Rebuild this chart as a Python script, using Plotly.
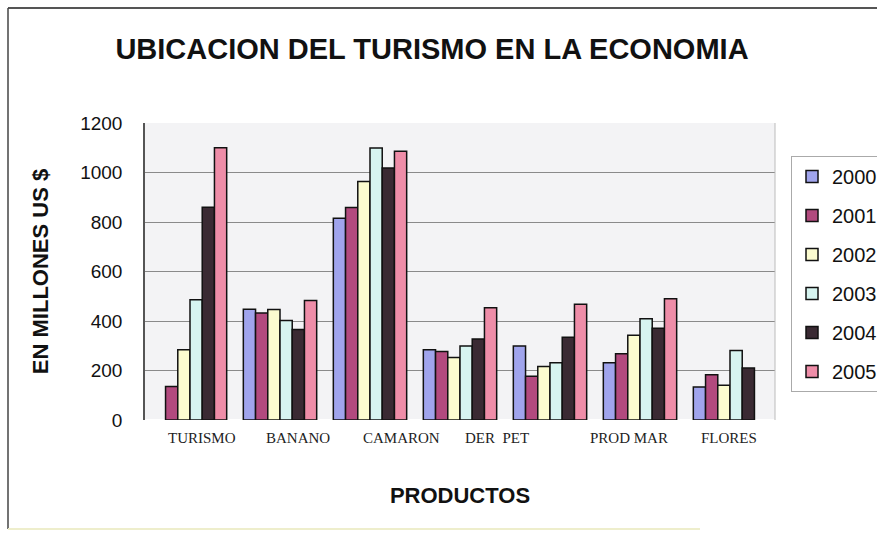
import plotly.graph_objects as go

categories = ["TURISMO", "BANANO", "CAMARON", "DER PET", "OTROS", "PROD MAR", "FLORES"]
tick_labels = ["TURISMO", "BANANO", "CAMARON", "DER  PET", "", "PROD MAR", "FLORES"]
label_shift = [12, 18, 31, 37, 0, -11, -1]
years = ["2000", "2001", "2002", "2003", "2004", "2005"]

v2000 = [None, 447, 815, 284, 299, 231, 133]
v2001 = [135, 432, 859, 277, 177, 268, 183]
v2002 = [284, 446, 964, 253, 216, 342, 140]
v2003 = [486, 402, 1099, 299, 231, 409, 281]
v2004 = [860, 366, 1018, 327, 334, 371, 210]
v2005 = [1100, 483, 1086, 454, 468, 490, None]
series = [v2000, v2001, v2002, v2003, v2004, v2005]

colors = ["#A0A4EC", "#B24A7E", "#FBFBCF", "#D6F4F0", "#3A2A33", "#EE8DA8"]

W, H = 877, 535
L, R, T, B = 145, 102, 123, 115
pw, ph = W - L - R, H - T - B

def px(x):
    return (x - L) / pw

def py(y):
    return (H - B - y) / ph

fig = go.Figure()
for name, vals, col in zip(years, series, colors):
    fig.add_trace(go.Bar(
        x=categories, y=vals, name=name, legendgroup=name,
        marker=dict(color=col, line=dict(color="#111111", width=1.5)),
    ))

fig.update_layout(
    width=W, height=H,
    margin=dict(l=L, r=R, t=T, b=B, autoexpand=False),
    paper_bgcolor="white",
    plot_bgcolor="#F3F3F5",
    barmode="group", bargap=0.185, bargroupgap=0,
    font=dict(family="Liberation Sans, Arial", color="#111111"),
    title=dict(text="<b>UBICACION DEL TURISMO EN LA ECONOMIA</b>",
               x=432 / W, xanchor="center", y=1 - 49 / H, yanchor="middle",
               font=dict(size=29, color="#111111")),
    legend=dict(x=px(791), y=py(156), xanchor="left", yanchor="top",
                bordercolor="#AAAAAA", borderwidth=1, bgcolor="white",
                font=dict(size=20, color="#111111"), itemwidth=30,
                tracegroupgap=10, traceorder="grouped"),
    showlegend=True,
)

for cat, lab, sh in zip(categories, tick_labels, label_shift):
    if lab:
        fig.add_annotation(x=cat, y=0, xref="x", yref="paper", text=lab,
                           showarrow=False, xshift=sh, yshift=-18, yanchor="middle",
                           font=dict(family="Liberation Serif, Times New Roman", size=15,
                                     color="#222222"))

fig.update_xaxes(
    showticklabels=False,
    showline=False, ticks="", showgrid=False,
    title=dict(text="<b>PRODUCTOS</b>", font=dict(size=22, color="#111111"), standoff=67),
)
fig.update_yaxes(
    range=[0, 1200], tickvals=[0, 200, 400, 600, 800, 1000, 1200],
    tickfont=dict(size=19, color="#111111"),
    showgrid=True, gridcolor="#8A8A8A", gridwidth=1,
    showline=True, linecolor="#555555", linewidth=1.5,
    ticks="", ticklabelstandoff=17,
    title=dict(text="<b>EN MILLONES US $</b>", font=dict(size=22, color="#111111"), standoff=25),
)

# plot area right border and outer chart frame
fig.add_shape(type="line", xref="paper", yref="paper", x0=1, x1=1, y0=0, y1=1,
              line=dict(color="#BBBBBB", width=1))
fig.add_shape(type="line", xref="paper", yref="paper", x0=px(8), x1=px(880), y0=py(8), y1=py(8),
              line=dict(color="#555555", width=2))
fig.add_shape(type="line", xref="paper", yref="paper", x0=px(8), x1=px(8), y0=py(8), y1=py(529),
              line=dict(color="#444444", width=1.5))
fig.add_shape(type="line", xref="paper", yref="paper", x0=px(8), x1=px(700), y0=py(529), y1=py(529),
              line=dict(color="#EEEECC", width=2))

fig.write_html("out.html")
